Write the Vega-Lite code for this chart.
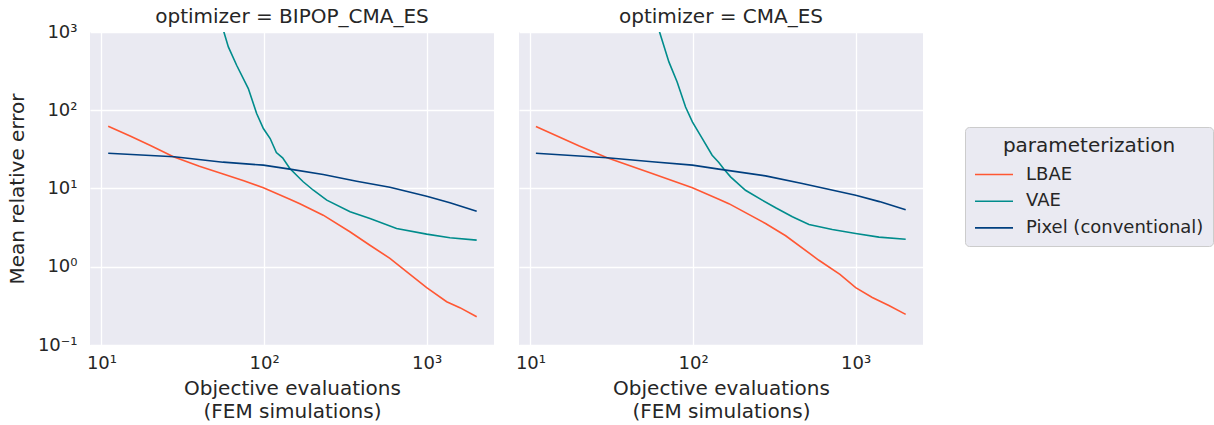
{
  "$schema": "https://vega.github.io/schema/vega-lite/v6.json",
  "background": "white",
  "padding": {"left": 7, "top": 7, "right": 5, "bottom": 5},
  "datasets": {
    "pts": [
      {"optimizer": "BIPOP_CMA_ES", "param": "LBAE", "x": 11, "y": 62.5},
      {"optimizer": "BIPOP_CMA_ES", "param": "LBAE", "x": 15, "y": 47},
      {"optimizer": "BIPOP_CMA_ES", "param": "LBAE", "x": 20, "y": 35.5},
      {"optimizer": "BIPOP_CMA_ES", "param": "LBAE", "x": 27.7, "y": 25.4},
      {"optimizer": "BIPOP_CMA_ES", "param": "LBAE", "x": 40, "y": 19.2},
      {"optimizer": "BIPOP_CMA_ES", "param": "LBAE", "x": 56, "y": 15.3},
      {"optimizer": "BIPOP_CMA_ES", "param": "LBAE", "x": 75, "y": 12.6},
      {"optimizer": "BIPOP_CMA_ES", "param": "LBAE", "x": 99, "y": 10.2},
      {"optimizer": "BIPOP_CMA_ES", "param": "LBAE", "x": 144, "y": 7.3},
      {"optimizer": "BIPOP_CMA_ES", "param": "LBAE", "x": 166, "y": 6.4},
      {"optimizer": "BIPOP_CMA_ES", "param": "LBAE", "x": 231, "y": 4.56},
      {"optimizer": "BIPOP_CMA_ES", "param": "LBAE", "x": 337, "y": 2.8},
      {"optimizer": "BIPOP_CMA_ES", "param": "LBAE", "x": 450, "y": 1.87},
      {"optimizer": "BIPOP_CMA_ES", "param": "LBAE", "x": 594, "y": 1.28},
      {"optimizer": "BIPOP_CMA_ES", "param": "LBAE", "x": 800, "y": 0.78},
      {"optimizer": "BIPOP_CMA_ES", "param": "LBAE", "x": 1000, "y": 0.54},
      {"optimizer": "BIPOP_CMA_ES", "param": "LBAE", "x": 1327, "y": 0.357},
      {"optimizer": "BIPOP_CMA_ES", "param": "LBAE", "x": 1600, "y": 0.3},
      {"optimizer": "BIPOP_CMA_ES", "param": "LBAE", "x": 2030, "y": 0.23},

      {"optimizer": "BIPOP_CMA_ES", "param": "VAE", "x": 53, "y": 1600},
      {"optimizer": "BIPOP_CMA_ES", "param": "VAE", "x": 56.6, "y": 1000},
      {"optimizer": "BIPOP_CMA_ES", "param": "VAE", "x": 60.3, "y": 645},
      {"optimizer": "BIPOP_CMA_ES", "param": "VAE", "x": 67.8, "y": 376},
      {"optimizer": "BIPOP_CMA_ES", "param": "VAE", "x": 80, "y": 189},
      {"optimizer": "BIPOP_CMA_ES", "param": "VAE", "x": 90, "y": 90.8},
      {"optimizer": "BIPOP_CMA_ES", "param": "VAE", "x": 99, "y": 58.4},
      {"optimizer": "BIPOP_CMA_ES", "param": "VAE", "x": 109, "y": 43.5},
      {"optimizer": "BIPOP_CMA_ES", "param": "VAE", "x": 119, "y": 28.8},
      {"optimizer": "BIPOP_CMA_ES", "param": "VAE", "x": 130, "y": 24.7},
      {"optimizer": "BIPOP_CMA_ES", "param": "VAE", "x": 144, "y": 18},
      {"optimizer": "BIPOP_CMA_ES", "param": "VAE", "x": 166, "y": 13.4},
      {"optimizer": "BIPOP_CMA_ES", "param": "VAE", "x": 174, "y": 12.2},
      {"optimizer": "BIPOP_CMA_ES", "param": "VAE", "x": 201, "y": 9.5},
      {"optimizer": "BIPOP_CMA_ES", "param": "VAE", "x": 243, "y": 7.1},
      {"optimizer": "BIPOP_CMA_ES", "param": "VAE", "x": 338, "y": 5.04},
      {"optimizer": "BIPOP_CMA_ES", "param": "VAE", "x": 448, "y": 4.14},
      {"optimizer": "BIPOP_CMA_ES", "param": "VAE", "x": 653, "y": 3.08},
      {"optimizer": "BIPOP_CMA_ES", "param": "VAE", "x": 1000, "y": 2.61},
      {"optimizer": "BIPOP_CMA_ES", "param": "VAE", "x": 1390, "y": 2.35},
      {"optimizer": "BIPOP_CMA_ES", "param": "VAE", "x": 2030, "y": 2.19},

      {"optimizer": "BIPOP_CMA_ES", "param": "Pixel (conventional)", "x": 11, "y": 28.2},
      {"optimizer": "BIPOP_CMA_ES", "param": "Pixel (conventional)", "x": 28, "y": 25.4},
      {"optimizer": "BIPOP_CMA_ES", "param": "Pixel (conventional)", "x": 56, "y": 21.7},
      {"optimizer": "BIPOP_CMA_ES", "param": "Pixel (conventional)", "x": 99, "y": 19.9},
      {"optimizer": "BIPOP_CMA_ES", "param": "Pixel (conventional)", "x": 144, "y": 17.7},
      {"optimizer": "BIPOP_CMA_ES", "param": "Pixel (conventional)", "x": 231, "y": 15.1},
      {"optimizer": "BIPOP_CMA_ES", "param": "Pixel (conventional)", "x": 371, "y": 12.4},
      {"optimizer": "BIPOP_CMA_ES", "param": "Pixel (conventional)", "x": 594, "y": 10.4},
      {"optimizer": "BIPOP_CMA_ES", "param": "Pixel (conventional)", "x": 1000, "y": 7.98},
      {"optimizer": "BIPOP_CMA_ES", "param": "Pixel (conventional)", "x": 1390, "y": 6.56},
      {"optimizer": "BIPOP_CMA_ES", "param": "Pixel (conventional)", "x": 2030, "y": 5.13},

      {"optimizer": "CMA_ES", "param": "LBAE", "x": 10.8, "y": 62},
      {"optimizer": "CMA_ES", "param": "LBAE", "x": 19.8, "y": 35.1},
      {"optimizer": "CMA_ES", "param": "LBAE", "x": 29.6, "y": 24.7},
      {"optimizer": "CMA_ES", "param": "LBAE", "x": 56, "y": 15.6},
      {"optimizer": "CMA_ES", "param": "LBAE", "x": 99, "y": 10.2},
      {"optimizer": "CMA_ES", "param": "LBAE", "x": 144, "y": 7.3},
      {"optimizer": "CMA_ES", "param": "LBAE", "x": 166, "y": 6.4},
      {"optimizer": "CMA_ES", "param": "LBAE", "x": 279, "y": 3.57},
      {"optimizer": "CMA_ES", "param": "LBAE", "x": 371, "y": 2.49},
      {"optimizer": "CMA_ES", "param": "LBAE", "x": 594, "y": 1.21},
      {"optimizer": "CMA_ES", "param": "LBAE", "x": 800, "y": 0.8},
      {"optimizer": "CMA_ES", "param": "LBAE", "x": 1000, "y": 0.54},
      {"optimizer": "CMA_ES", "param": "LBAE", "x": 1265, "y": 0.405},
      {"optimizer": "CMA_ES", "param": "LBAE", "x": 1600, "y": 0.32},
      {"optimizer": "CMA_ES", "param": "LBAE", "x": 2030, "y": 0.246},

      {"optimizer": "CMA_ES", "param": "VAE", "x": 59, "y": 1600},
      {"optimizer": "CMA_ES", "param": "VAE", "x": 62.2, "y": 1000},
      {"optimizer": "CMA_ES", "param": "VAE", "x": 71, "y": 415},
      {"optimizer": "CMA_ES", "param": "VAE", "x": 79.8, "y": 230},
      {"optimizer": "CMA_ES", "param": "VAE", "x": 89.9, "y": 110},
      {"optimizer": "CMA_ES", "param": "VAE", "x": 99, "y": 71},
      {"optimizer": "CMA_ES", "param": "VAE", "x": 114, "y": 43.5},
      {"optimizer": "CMA_ES", "param": "VAE", "x": 131, "y": 26.6},
      {"optimizer": "CMA_ES", "param": "VAE", "x": 144, "y": 21.5},
      {"optimizer": "CMA_ES", "param": "VAE", "x": 155, "y": 17.6},
      {"optimizer": "CMA_ES", "param": "VAE", "x": 170, "y": 14.1},
      {"optimizer": "CMA_ES", "param": "VAE", "x": 210, "y": 9.5},
      {"optimizer": "CMA_ES", "param": "VAE", "x": 266, "y": 7.1},
      {"optimizer": "CMA_ES", "param": "VAE", "x": 322, "y": 5.67},
      {"optimizer": "CMA_ES", "param": "VAE", "x": 408, "y": 4.36},
      {"optimizer": "CMA_ES", "param": "VAE", "x": 516, "y": 3.47},
      {"optimizer": "CMA_ES", "param": "VAE", "x": 718, "y": 2.99},
      {"optimizer": "CMA_ES", "param": "VAE", "x": 1000, "y": 2.66},
      {"optimizer": "CMA_ES", "param": "VAE", "x": 1390, "y": 2.39},
      {"optimizer": "CMA_ES", "param": "VAE", "x": 2030, "y": 2.25},

      {"optimizer": "CMA_ES", "param": "Pixel (conventional)", "x": 10.8, "y": 28.2},
      {"optimizer": "CMA_ES", "param": "Pixel (conventional)", "x": 29.6, "y": 24.7},
      {"optimizer": "CMA_ES", "param": "Pixel (conventional)", "x": 56, "y": 22},
      {"optimizer": "CMA_ES", "param": "Pixel (conventional)", "x": 99, "y": 19.9},
      {"optimizer": "CMA_ES", "param": "Pixel (conventional)", "x": 144, "y": 17.7},
      {"optimizer": "CMA_ES", "param": "Pixel (conventional)", "x": 279, "y": 14.5},
      {"optimizer": "CMA_ES", "param": "Pixel (conventional)", "x": 469, "y": 11.6},
      {"optimizer": "CMA_ES", "param": "Pixel (conventional)", "x": 1000, "y": 8.2},
      {"optimizer": "CMA_ES", "param": "Pixel (conventional)", "x": 1400, "y": 6.8},
      {"optimizer": "CMA_ES", "param": "Pixel (conventional)", "x": 2030, "y": 5.35}
    ]
  },
  "data": {"name": "pts"},
  "facet": {
    "column": {
      "field": "optimizer",
      "type": "nominal",
      "sort": ["BIPOP_CMA_ES", "CMA_ES"],
      "header": {
        "title": null,
        "labelExpr": "'optimizer = ' + datum.value",
        "labelFont": "DejaVu Sans",
        "labelFontSize": 20,
        "labelColor": "#262626",
        "labelPadding": 5
      }
    }
  },
  "spacing": 25,
  "spec": {
    "width": 404,
    "height": 313,
    "mark": {"type": "line", "strokeWidth": 1.6, "clip": true},
    "encoding": {
      "x": {
        "field": "x",
        "type": "quantitative",
        "scale": {"type": "log", "domain": [8.5, 2594], "nice": false},
        "axis": {
          "values": [10, 100, 1000],
          "labelExpr": "datum.value == 10 ? '10¹' : datum.value == 100 ? '10²' : '10³'",
          "title": ["Objective evaluations", "(FEM simulations)"],
          "titlePadding": 6,
          "titleLineHeight": 23,
          "labelPadding": 9
        }
      },
      "y": {
        "field": "y",
        "type": "quantitative",
        "scale": {"type": "log", "domain": [0.1, 1000], "nice": false},
        "axis": {
          "values": [0.1, 1, 10, 100, 1000],
          "labelExpr": "datum.value < 0.5 ? '10⁻¹' : datum.value < 5 ? '10⁰' : datum.value < 50 ? '10¹' : datum.value < 500 ? '10²' : '10³'",
          "title": "Mean relative error",
          "titlePadding": 10,
          "labelPadding": 13
        }
      },
      "color": {
        "field": "param",
        "type": "nominal",
        "scale": {
          "domain": ["LBAE", "VAE", "Pixel (conventional)"],
          "range": ["#FF5733", "#008C8C", "#003F7F"]
        },
        "legend": {
          "title": "parameterization",
          "orient": "none",
          "legendX": 875,
          "legendY": 95
        }
      }
    }
  },
  "config": {
    "font": "DejaVu Sans",
    "view": {"fill": "#EAEAF2", "stroke": null},
    "axis": {
      "domain": false,
      "ticks": false,
      "grid": true,
      "gridColor": "#FFFFFF",
      "gridWidth": 1.3,
      "labelFont": "DejaVu Sans",
      "labelFontSize": 18,
      "labelColor": "#262626",
      "titleFont": "DejaVu Sans",
      "titleFontSize": 20,
      "titleFontWeight": "normal",
      "titleColor": "#262626"
    },
    "legend": {
      "fillColor": "#EAEAF2",
      "strokeColor": "#CCCCCC",
      "cornerRadius": 4,
      "padding": 9,
      "titleFont": "DejaVu Sans",
      "titleFontSize": 20,
      "titleFontWeight": "normal",
      "titleColor": "#262626",
      "titleAnchor": "middle",
      "labelFont": "DejaVu Sans",
      "labelFontSize": 18,
      "labelColor": "#262626",
      "labelLimit": 400,
      "symbolType": "M-1,0H3",
      "symbolSize": 361,
      "symbolStrokeWidth": 1.6,
      "symbolFillColor": "transparent",
      "labelOffset": 31,
      "rowPadding": 6.7,
      "titlePadding": 8
    }
  }
}
